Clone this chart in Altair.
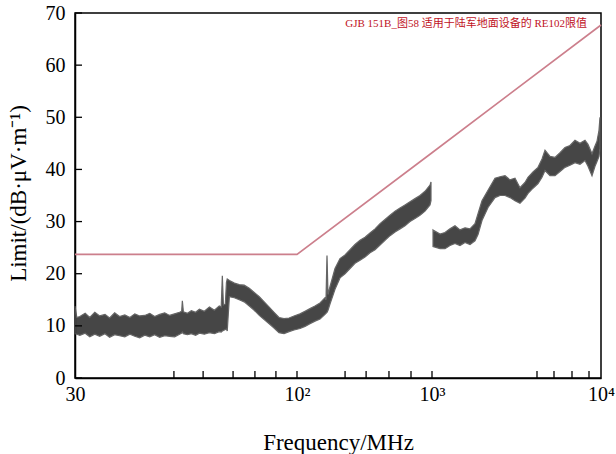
import altair as alt
import pandas as pd

# ---- measured trace, part 1 (30 MHz .. ~1 GHz), lower / upper edge of the noisy band
freq_a = [30.0, 30.3, 30.8, 31.7, 32.5, 33.4, 34.3, 35.3, 36.2, 37.2, 38.2, 39.3, 40.4, 41.5,
          42.6, 43.8, 45.0, 46.2, 47.5, 48.8, 50.1, 51.5, 52.9, 53.5, 53.7, 54.0, 55.2, 56.4,
          57.7, 58.9, 60.5, 62.2, 63.9, 65.6, 66.3, 66.7, 67.1, 67.8, 68.2, 68.5,
          69.3, 71.2, 73.1, 75.1, 77.2, 79.3, 81.5, 83.7, 86.0, 88.3, 90.7, 93.2, 95.8, 98.4,
          105.3, 114.6, 124.8, 135.9, 148.1, 161.2, 164.0, 166.8, 169.7, 175.5, 191.2, 208.2,
          226.8, 247.0, 268.9, 292.9, 319.0, 347.4, 378.4, 412.0, 448.7, 488.7, 532.2, 579.6,
          631.0, 687.2, 748.4, 815.0, 887.6, 966.5, 983.0]
lo_a = [8.5, 8.4, 8.2, 8.6, 7.9, 8.4, 8.0, 8.5, 7.8, 8.3, 8.1, 7.9, 8.4, 8.0,
        7.7, 8.2, 7.9, 8.3, 7.8, 8.1, 8.0, 7.9, 8.4, 8.6, 8.8, 8.5, 8.3, 8.5,
        8.2, 8.6, 8.4, 8.7, 8.5, 8.9, 8.8, 9.0, 9.1, 9.3, 9.4, 9.0,
        15.6, 15.4, 15.0, 14.6, 13.8, 13.0, 12.0, 11.2, 10.4, 9.6, 8.7, 8.5, 8.9, 9.2,
        9.5, 9.9, 10.4, 10.9, 11.3, 12.2, 12.4, 12.6, 13.0, 14.2, 17.0, 19.2,
        20.0, 21.0, 22.0, 22.6, 23.2, 24.0, 24.6, 25.5, 26.4, 27.3, 28.0, 28.6,
        29.2, 30.0, 30.6, 31.2, 32.0, 33.2, 34.0]
hi_a = [13.8, 11.6, 11.8, 12.4, 11.6, 12.6, 11.9, 12.2, 11.5, 12.5, 11.8, 12.1, 11.6, 12.3,
        11.9, 12.0, 12.4, 11.8, 12.2, 12.5, 12.0, 12.3, 12.6, 12.8, 14.8, 12.7, 12.4, 12.9,
        12.6, 13.2, 12.8, 13.6, 13.0, 13.8, 13.6, 19.6, 14.0, 14.2, 18.3, 19.0,
        18.7, 18.2, 17.9, 17.8, 17.2, 16.4, 15.6, 14.6, 13.6, 12.6, 11.6, 11.4, 11.5, 11.9,
        12.3, 12.8, 13.3, 13.8, 14.4, 15.4, 15.0, 23.5, 16.0, 17.5, 21.0, 22.9,
        23.6, 24.6, 25.6, 26.4, 27.0, 27.8, 28.6, 29.6, 30.4, 31.2, 32.0, 32.6,
        33.2, 33.8, 34.4, 35.0, 35.8, 37.0, 37.6]

# ---- measured trace, part 2 (1 GHz .. 10 GHz)
freq_b = [1014, 1115, 1194, 1278, 1368, 1464, 1568, 1678, 1796, 1872, 1976, 2145, 2359,
          2526, 2704, 2894, 3098, 3316, 3549, 3699, 3960, 4239, 4477, 4663, 4992, 5343,
          5720, 6123, 6554, 7017, 7510, 8040, 8376, 8846, 9215, 9469, 9731, 9865]
lo_b = [25.2, 24.8, 24.8, 25.4, 25.8, 25.4, 26.0, 25.6, 26.3, 27.5, 30.2, 32.7, 34.6,
        35.0, 35.0, 34.6, 34.0, 33.5, 34.5, 35.4, 36.4, 37.3, 38.5, 39.8, 38.8, 38.8,
        39.6, 40.4, 40.8, 41.3, 41.0, 41.7, 40.6, 38.8, 40.6, 41.5, 42.5, 44.0]
hi_b = [28.4, 27.6, 27.9, 28.6, 29.2, 28.4, 28.8, 28.6, 29.6, 31.5, 34.0, 36.0, 38.3,
        38.6, 38.8, 38.0, 38.3, 36.5, 37.5, 38.5, 39.5, 40.4, 42.0, 43.7, 42.5, 42.3,
        43.2, 44.2, 44.6, 45.6, 45.0, 45.6, 44.8, 43.0, 44.5, 45.4, 47.5, 50.0]

# ---- limit line
limit_freq = [30, 100, 1000, 10000]
limit_val = [23.7, 23.7, 43.2, 67.7]

# ---- axes
x_major = [30, 100, 1000, 10000]
x_major_labels = ["30", "10²", "10³", "10⁴"]
x_tick_freq = [51.3, 60.1, 70.7, 79.6, 89.2, 100, 227, 325, 480, 699, 1000,
               4181, 5271, 6736, 8492]
y_ticks = [0, 10, 20, 30, 40, 50, 60, 70]
note = ["GJB 151B_图58 适用于陆军地面设备的 RE102限值"]

W, H = 526, 365
SERIF = "Liberation Serif"

trace = pd.DataFrame({
    "f": freq_a + freq_b,
    "lo": lo_a + lo_b,
    "hi": hi_a + hi_b,
    "seg": ["a"] * len(freq_a) + ["b"] * len(freq_b),
})
limit = pd.DataFrame({"f": limit_freq, "v": limit_val})

xscale = alt.Scale(type="log", domain=[30, 100, 1000, 10000], range=[0, 222, 357, 526],
                   nice=False)
yscale = alt.Scale(domain=[0, 70], nice=False, zero=True)

label_expr = " : ".join(
    f"datum.value == {v} ? '{t}'" for v, t in zip(x_major[:-1], x_major_labels[:-1])
) + f" : '{x_major_labels[-1]}'"

x_axis = alt.Axis(values=x_major, labelExpr=label_expr, ticks=False, tickSize=0,
                  grid=False, labelFont=SERIF, labelFontSize=20, labelColor="black",
                  labelPadding=6, labelFlush=False, labelOverlap=False,
                  domainColor="black", domainWidth=1.5,
                  title="Frequency/MHz", titleFont=SERIF, titleFontSize=23,
                  titleFontWeight="normal", titleColor="black",
                  titleBaseline="alphabetic", titleY=71)
y_axis = alt.Axis(values=y_ticks, ticks=False, tickSize=0, grid=False,
                  labelFont=SERIF, labelFontSize=20, labelColor="black",
                  labelPadding=10, labelFlush=False,
                  domainColor="black", domainWidth=1.5,
                  title="Limit/(dB·μV·m⁻¹)", titleFont=SERIF, titleFontSize=23,
                  titleFontWeight="normal", titleColor="black",
                  titleBaseline="middle", titleX=-57, titleY=180, titleAngle=-90)

band = alt.Chart(trace).mark_area(color="#333333", opacity=0.9, interpolate="linear",
                                  stroke="#555555", strokeWidth=1.2).encode(
    x=alt.X("f:Q", scale=xscale, axis=x_axis),
    y=alt.Y("hi:Q", scale=yscale, axis=y_axis),
    y2="lo:Q",
    detail="seg:N",
)

limit_line = alt.Chart(limit).mark_line(color="#cc7f8c", strokeWidth=1.6).encode(
    x=alt.X("f:Q", scale=xscale),
    y=alt.Y("v:Q", scale=yscale),
)

xt = alt.Chart(pd.DataFrame({"f": x_tick_freq})).mark_rule(color="black", strokeWidth=1.3).encode(
    x=alt.X("f:Q", scale=xscale),
    y=alt.value(H),
    y2=alt.value(H - 7),
)
yt = alt.Chart(pd.DataFrame({"v": y_ticks})).mark_rule(color="black", strokeWidth=1.3).encode(
    y=alt.Y("v:Q", scale=yscale),
    x=alt.value(0),
    x2=alt.value(7),
)

txt = alt.Chart(pd.DataFrame({"t": note})).mark_text(
    align="right", baseline="middle", font=f"{SERIF}, Noto Sans CJK SC, serif",
    fontSize=11, color="#c0121e"
).encode(text="t:N", x=alt.value(512), y=alt.value(11))

chart = alt.layer(band, limit_line, xt, yt, txt).properties(
    width=W, height=H,
    padding={"left": 75, "top": 13, "right": 15, "bottom": 76},
    autosize=alt.AutoSizeParams(type="none"),
    background="white",
).configure_view(stroke="black", strokeWidth=1.5)

chart.save("out.html", embed_options={"renderer": "svg", "actions": False})
